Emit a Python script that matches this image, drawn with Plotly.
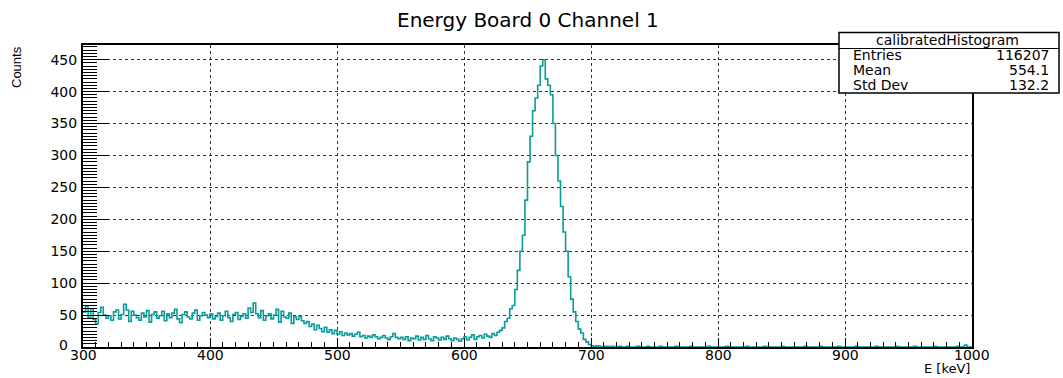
import plotly.graph_objects as go

# ---------------- data ----------------
x_start = 300.0
bin_width = 2.0

# counts per 2 keV bin
counts_300_400 = [55, 64, 46, 60, 43, 36, 54, 62, 50, 45,
                  49, 42, 55, 58, 44, 51, 67, 58, 40, 56,
                  50, 46, 42, 53, 47, 57, 39, 51, 55, 45,
                  49, 56, 41, 52, 46, 53, 59, 44, 38, 51,
                  55, 47, 44, 53, 58, 42, 49, 54, 50, 46]
counts_400_470 = [52, 44, 48, 53, 42, 49, 56, 46, 40, 51,
                  54, 43, 48, 52, 45, 61, 54, 69, 52, 46,
                  57, 42, 49, 52, 44, 50, 59, 39, 56, 47,
                  45, 53, 37, 47, 43]
counts_470_500 = [48, 41, 37, 40, 32, 36, 27, 34, 29, 24, 31, 23, 27, 21, 26]
counts_500_550 = [20, 24, 18, 22, 19, 21, 17, 20, 23, 16, 18, 14, 17, 15, 19,
                  16, 13, 15, 18, 14, 12, 16, 21, 15, 13]
counts_550_630 = [15, 12, 16, 10, 14, 13, 17, 11, 15, 12,
                  18, 13, 10, 16, 14, 11, 15, 12, 17, 13,
                  10, 14, 12, 9, 13, 16, 11, 15, 19, 12,
                  16, 18, 14, 20, 17, 15, 21, 18, 23, 26]
counts_630_700 = [30, 40, 45, 60, 65, 90, 120, 150, 175, 230,
                  290, 330, 370, 390, 410, 440, 450, 420, 410, 395,
                  350, 300, 260, 220, 180, 150, 110, 75, 55, 40,
                  28, 22, 12, 8, 4]
counts_700_800 = [2, 1, 2, 1, 0, 1, 1, 0, 1, 0, 0, 1, 0, 0, 1, 0, 0, 0, 1, 0,
                  0, 0, 1, 0, 0, 0, 0, 1, 0, 0, 0, 0, 0, 1, 0, 0, 0, 0, 0, 1,
                  0, 0, 0, 0, 0, 0, 1, 0, 0, 0]
counts_800_900 = [0, 0, 0, 1, 0, 0, 0, 0, 0, 0, 0, 1, 0, 0, 0, 0, 0, 0, 1, 0,
                  0, 0, 0, 0, 0, 1, 0, 0, 0, 0, 0, 0, 0, 0, 1, 0, 0, 0, 0, 0,
                  1, 0, 0, 0, 0, 0, 0, 1, 0, 0]
counts_900_1000 = [0, 0, 0, 0, 1, 0, 0, 0, 0, 0, 0, 0, 1, 0, 0, 0, 0, 0, 0, 0,
                   1, 0, 0, 0, 0, 0, 0, 1, 0, 0, 0, 0, 0, 0, 0, 1, 0, 0, 0, 0,
                   0, 0, 0, 0, 1, 0, 0, 3, 0, 0]

x_ticks = [300, 400, 500, 600, 700, 800, 900, 1000]
y_ticks = [0, 50, 100, 150, 200, 250, 300, 350, 400, 450]

title_text = "Energy Board 0 Channel 1"
x_title = "E [keV]"
y_title = "Counts"
stats_name = "calibratedHistogram"
stats_labels = ["Entries", "Mean", "Std Dev"]
stats_values = ["116207", "554.1", "132.2"]

# ---------------- build ----------------
counts = (counts_300_400 + counts_400_470 + counts_470_500 + counts_500_550 +
          counts_550_630 + counts_630_700 + counts_700_800 + counts_800_900 +
          counts_900_1000)
edges = [x_start + i * bin_width for i in range(len(counts) + 1)]
ys = counts + [counts[-1]]

FONT = "DejaVu Sans, Liberation Sans, sans-serif"
NARROW = "Liberation Sans Narrow, Liberation Sans, Arial, sans-serif"
W, H = 1063, 378
L, R, T, B = 83, 972, 45, 347

def px(p):
    return (p - L) / (R - L)

def py(p):
    return (B - p) / (B - T)

fig = go.Figure()
fig.add_trace(go.Scatter(
    x=edges, y=ys, mode="lines", line=dict(shape="hv", color="#0a9b9b", width=1.6),
    hoverinfo="skip", showlegend=False))

grid = dict(showgrid=True, gridcolor="#333333", griddash="dot", gridwidth=1)
fig.update_xaxes(
    range=[300, 1000], tickvals=x_ticks, ticks="inside", ticklen=9, tickwidth=1,
    tickcolor="black", showline=True, linecolor="black", linewidth=2, mirror=True,
    minor=dict(ticks="inside", ticklen=5, dtick=10, tickcolor="black", showgrid=False),
    showticklabels=False, zeroline=False, **grid)
y_text = ["" if v == 0 else str(v) for v in y_ticks]
fig.update_yaxes(
    range=[0, 473], tickvals=y_ticks, ticktext=y_text, ticks="inside", ticklen=26,
    tickwidth=1, tickcolor="black", showline=True, linecolor="black", linewidth=2,
    mirror=True,
    minor=dict(ticks="inside", ticklen=14, dtick=5, tickcolor="black", showgrid=False),
    tickfont=dict(family=FONT, size=14, color="black"), ticklabelstandoff=1,
    zeroline=False, **grid)

anns = [
    dict(text=title_text, x=0.5, xref="paper", y=py(20), yref="paper",
         showarrow=False, font=dict(family=FONT, size=20, color="black"),
         xanchor="center", yanchor="middle"),
    dict(text=x_title, x=1.0, xref="paper", y=py(378), yref="paper", showarrow=False,
         font=dict(family=FONT, size=13, color="black"), xanchor="right", yanchor="bottom"),
    dict(text=y_title, x=px(16), xref="paper", y=py(44), yref="paper", showarrow=False,
         textangle=-90, font=dict(family=NARROW, size=13, color="black"),
         xanchor="center", yanchor="top"),
    dict(text=stats_name, x=px(947), xref="paper", y=py(40), yref="paper", showarrow=False,
         font=dict(family=FONT, size=14, color="black"), xanchor="center", yanchor="middle"),
    # y tick label "0" placed clear of the "300" x label
    dict(text="0", x=px(70), xref="paper", y=py(345), yref="paper", showarrow=False,
         font=dict(family=FONT, size=14, color="black"), xanchor="right", yanchor="middle"),
]
# x tick labels placed on the x scale
for v in x_ticks:
    anns.append(dict(text=str(v), x=v, xref="x", y=py(355), yref="paper", showarrow=False,
                     font=dict(family=FONT, size=14, color="black"),
                     xanchor="center", yanchor="middle"))
row_y = [55, 70, 85]
for lab, val, ry in zip(stats_labels, stats_values, row_y):
    anns.append(dict(text=lab, x=px(851), xref="paper", y=py(ry), yref="paper",
                     showarrow=False, font=dict(family=FONT, size=14, color="black"),
                     xanchor="left", yanchor="middle"))
    anns.append(dict(text=val, x=px(1051), xref="paper", y=py(ry), yref="paper",
                     showarrow=False, font=dict(family=FONT, size=14, color="black"),
                     xanchor="right", yanchor="middle"))

shapes = [
    dict(type="rect", xref="paper", yref="paper", x0=px(839), x1=px(1059),
         y0=py(93), y1=py(32.5), line=dict(color="black", width=1.5), fillcolor="white",
         layer="above"),
    dict(type="line", xref="paper", yref="paper", x0=px(839), x1=px(1059),
         y0=py(48.5), y1=py(48.5), line=dict(color="black", width=1.2), layer="above"),
]

fig.update_layout(
    width=W, height=H, margin=dict(l=L, r=W - R, t=T, b=H - B),
    paper_bgcolor="white", plot_bgcolor="white",
    annotations=anns, shapes=shapes, showlegend=False)

fig.write_html("out.html")
